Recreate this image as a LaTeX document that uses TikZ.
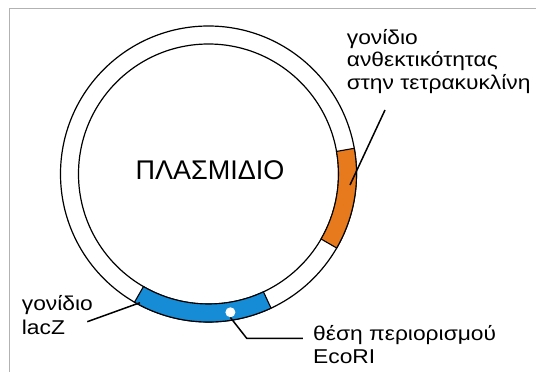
\documentclass[tikz,border=0pt]{standalone}
\usepackage{fontspec}
\setmainfont{Liberation Sans}
\newfontfamily\lblfont[FakeStretch=1.14]{Liberation Sans}
\usetikzlibrary{positioning}
\definecolor{tetorange}{RGB}{232,122,30}
\definecolor{lacblue}{RGB}{22,140,215}

\begin{document}
\begin{tikzpicture}
[x=1pt,y=1pt,
 ring/.style={draw,circle,line width=1.2pt,inner sep=0pt},
 gene/.style={draw,line width=1.1pt},
 lbl/.style={align=left,anchor=base west,inner sep=0pt,font=\lblfont\fontsize{20}{22.6}\selectfont},
 lead/.style={line width=1.5pt}]
\useasboundingbox (-208.5,-198) rectangle (327.5,174);
\draw[gray!60,line width=0.8pt] (-199.5,-198) -- (-199.5,166) -- (327.5,166);
% the ring
\node[ring,minimum size=296pt](outer) at (0,0){};
\node[ring,minimum size=260pt](inner) at (0,0){};
\path[gene,fill=tetorange] (-30:130) arc[start angle=-30,end angle=10,radius=130]
  -- (10:148) arc[start angle=10,end angle=-30,radius=148] -- cycle;
\path[gene,fill=lacblue] (-120:130) arc[start angle=-120,end angle=-65,radius=130]
  -- (-65:148) arc[start angle=-65,end angle=-120,radius=148] -- cycle;
\node[circle,fill=white,minimum size=10pt,inner sep=0pt](eco) at (-81:140){};
\node[font=\fontsize{27}{30}\selectfont](pl) at (1.5,3.6){ΠΛΑΣΜΙΔΙΟ};
% labels
\node[lbl](tet) at (138.2,84.7){γονίδιο\\ανθεκτικότητας\\στην τετρακυκλίνη};
\node[lbl,font=\lblfont\fontsize{20}{23.6}\selectfont](lac) at (-186.8,-160.3){γονίδιο\\lacZ};
\node[lbl](ecor) at (104.5,-189.3){θέση περιορισμού\\EcoRI};
\coordinate (tet1) at (176.5,64); \coordinate (tet2) at (141.5,-11);
\coordinate (lac1) at (-121.2,-147.7); \coordinate (lac2) at (-68.5,-128.7);
\coordinate (k) at (38.2,-164.3); \coordinate (eco2) at (94.5,-164.3);
\path[lead] (tet1) edge (tet2); \path[lead] (lac1) edge (lac2);
\draw[lead] (eco.south) -- (k) -- (eco2);
\end{tikzpicture}
\end{document}
